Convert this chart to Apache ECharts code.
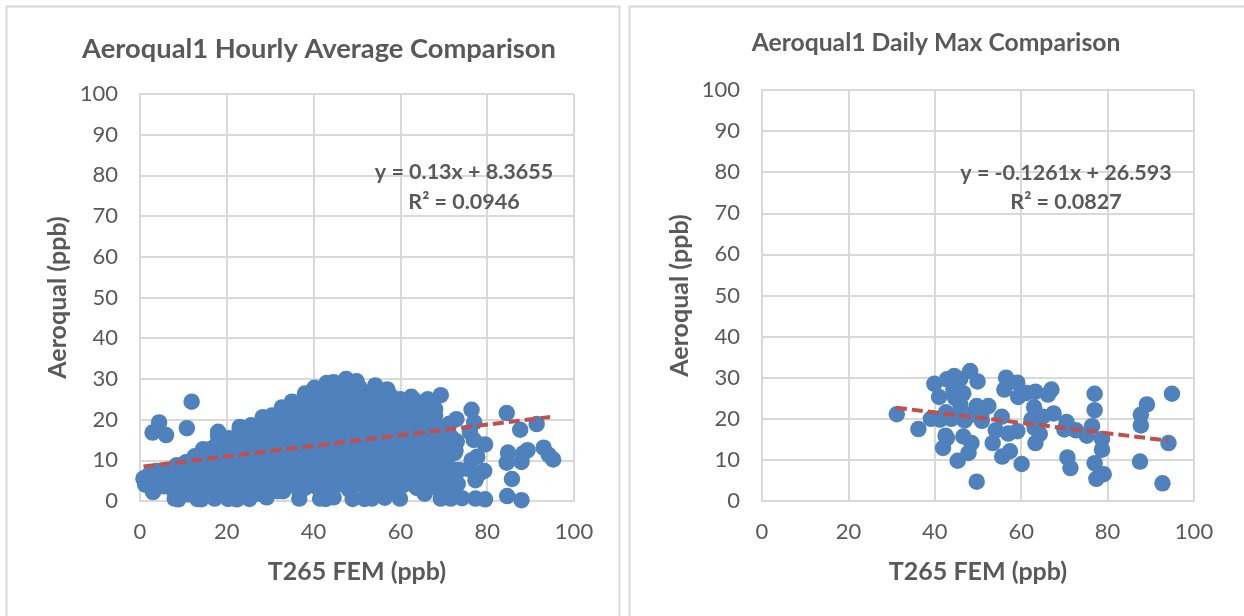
<!DOCTYPE html>
<html><head><meta charset="utf-8">
<style>html,body{margin:0;padding:0;background:#fff}#c{width:1244px;height:616px}</style>
<script src="https://cdn.jsdelivr.net/npm/echarts@6/dist/echarts.min.js"></script>
</head><body><div id="c"></div>
<script>
const xTicks = [0,20,40,60,80,100];
const yTicks = [0,10,20,30,40,50,60,70,80,90,100];
const hourlyTrendX = [0.8, 94.5];
const hourlyTrendY = [8.47, 20.65];
const dailyTrendX = [31, 94];
const dailyTrendY = [22.7, 14.7];
const hourlyPoints = [
[0.8,5.5],[1.2,4],[2,6.3],[2.9,16.8],[4.4,19.3],[6,16.2],[11.9,24.4],[10.8,17.9],[3,2.2],[3.2,4.6],[3.8,7.4],[5,5.8],[5.5,3.8],[6.2,7.6],[7,5],[7.6,2.8],
[8,0.6],[8.8,0.4],[8.5,8.8],[9.5,6.2],[9.8,3.4],[10.6,9.5],[11,1.6],[11.7,6.8],[12.2,4.2],[12.6,11],[13.2,0.5],[13.8,8.6],[14.1,0.4],[14.4,2.8],[14.5,12.7],[15,5.6],
[15.6,10.2],[16.2,2],[16.8,7.4],[17.2,0.6],[17,13.2],[18,16],[18.4,4.3],[18.6,10.6],[19,12.8],[19.5,1.7],[20.3,0.5],[20,15.2],[20.4,7],[21,4],[21.2,9.8],[21.6,12.6],
[22.3,0.4],[22.8,2.2],[23,17.6],[22.9,14.8],[23.4,6],[24,11],[24.6,8.4],[25.2,0.5],[25.3,3.2],[25.4,16.5],[26,13.4],[26.4,5.4],[27,18.2],[27.2,10.2],[27.6,1.8],[28.3,19.8],
[28,7.6],[28.6,15.5],[29.2,0.9],[29.4,12.4],[29.6,4],[30.2,18],[30.5,9.4],[31,6.2],[31.4,15],[31.8,2.4],[32.7,22],[32.4,12],[33,19.2],[33.4,8.2],[33.8,4.4],[34.2,16.4],
[35,23.4],[35,21],[35.2,13.8],[35.6,10.6],[36,6.2],[36.7,0.6],[36.6,2.8],[36.8,18.6],[37.2,15.4],[37.4,22.5],[38,25.5],[38,12.3],[38.2,8.4],[38.8,20],[39,4.4],[39.4,16.8],
[40.2,26.8],[40,24],[40.2,10],[40.6,13.8],[41.2,21],[41.5,0.6],[41.6,6.4],[41.8,18],[42,3.2],[42.4,25],[43.3,28.1],[43,15],[42.8,0.5],[43.6,11],[44,22.4],[44.6,28.5],
[44.5,8],[44.6,0.9],[44.8,19],[45,4.8],[45.4,25.6],[45.8,13.2],[46.4,16.4],[46.6,22],[47.5,29.7],[47,27.4],[47.2,10.2],[47.6,6.4],[48,19],[48.2,2.8],[48.6,24.8],[49,0.5],
[49,14],[49.9,28.5],[49.8,21.6],[50,8.4],[50.3,17],[50.6,4.6],[51,26],[51.7,0.5],[51.6,11.4],[52,23.6],[52.2,14.6],[52.6,19.4],[53.4,0.6],[53.2,6.6],[53.4,2.8],[54.2,27.6],
[54,25],[54.2,16.8],[54.4,10],[55,21.8],[55.4,13],[55.6,4.4],[56.4,0.8],[56.2,7.4],[57,26.4],[57,18.8],[57.2,24],[57.6,3.2],[58,15.4],[58.2,10.6],[58.8,21.6],[59,24.8],
[59.9,0.6],[59.6,7],[60.2,24.3],[60,12.8],[60.4,18],[61,4.6],[61.2,21],[61.6,9.4],[62.5,25.2],[62.4,15.4],[62.6,5.8],[63,22.4],[63.4,12],[63.8,3.2],[64,19],[64.6,7.6],
[65,24],[65.2,16],[65.4,10],[65.6,1.8],[66.3,24.3],[66.4,21],[66.6,5.2],[67,13.2],[67.2,22.8],[67.4,3.6],[67.8,8.6],[68,17.8],[68.6,11],[69.3,26],[69.3,0.6],[69.4,6],
[69.4,14.8],[70,3.4],[70.4,18.2],[70.6,9.4],[71.3,19],[71.6,0.6],[71.6,12.6],[71.8,15.6],[72,7],[72.4,3.2],[72.9,20.1],[72.7,12.4],[73,14.6],[73.2,4.2],[73.6,7.6],[74.2,0.7],
[75.8,7.8],[76.4,22.4],[77,19.3],[76,17],[76.9,15],[79.5,13.9],[77.7,10.9],[76.4,10],[79.3,7.4],[78.2,6.8],[77.3,5.1],[77.3,0.6],[79.5,0.4],[84.5,21.6],[87.6,17.5],[91.4,18.9],
[84.8,11.9],[84.5,9.4],[87.9,9.6],[89.3,12.5],[88.3,11.7],[85.7,5.4],[84.6,1.2],[87.9,0.2],[93,13.1],[94.2,11.3],[95.2,10.2]
];
const hourlyCoreX = [3,5.5,8,10.5,13,15.5,18,20.5,23,25.5,28,30.5,33,35.5,38,40.5,43,45.5,48,50.5,53,55.5,58,60.5,63,65.5,68,70.5,72.5];
const hourlyCoreY = [
[2.5,5.5],[3.6,6.6],[2.5,5.4,8.2],[3.8,6.8,9.4],[2.4,5.2,8,10.8],[3.6,6.6,9.6,12.6],[2.3,5.2,8.2,11.2,14.2],[3.5,6.4,9.6,12.6,15.4],
[2.2,5,8,11.2,14,16.6],[3.4,6.4,9.6,12.4,15.2,17.6],[2.4,5.2,8,11,14,17,19.4],[3.6,6.6,9.8,12.8,15.6,18.4,20],[2.4,5.4,8.4,11.2,14.2,17.2,20,22],
[3.8,7,10,13,16,18.8,21.6,23.6],[3.2,5.6,8.6,11.6,14.6,17.6,20.4,23.4,25.6],[3.6,7,10,13,16,19,22,25,26.8],[3,5.6,8.8,11.8,14.6,17.6,20.6,23.6,26.4,28],
[4,7,10,13,16,19,22,25,27.6],[3.2,5.6,8.8,11.8,14.8,17.8,20.8,23.6,26.4,29.2],[4,7,10,13,16,19,22,25,28],[3.4,5.6,8.8,11.8,14.8,17.8,20.8,23.6,26.4],
[4,7,10,13,16,19,22,25,27],[3.4,5.8,8.8,11.8,14.8,17.8,20.8,23.6,25.6],[3.8,7,10,13,16,19,22,24.4],[4,5.6,8.8,11.8,14.8,17.8,20.8,23.8,25],
[3.2,7,10,13,16,19,22,24.4],[3.4,5.6,8.8,11.8,14.8,18,21,22.6],[3,6.6,10,13,16,18],[3.6,7.6,11.8,14.6]
];
const hourlyUpperEdge = [
[47.5,30],[44.6,29.2],[43,29],[49.9,29.4],[54.2,28.4],[57,27.4],[62.5,25.6],[60,25],[66.3,25],[40.2,27.8],[38,26.4],[35,24.4],[32.7,23],[28.3,20.6],[23,18.2],[18,17],[25.6,18.6],[30.4,21]
];
const dailyPoints = [
[31.2,21.1],[36.2,17.5],[39.1,20],[39.9,28.5],[41,25.3],[41.2,19.8],[42.8,29.6],[42.6,21.6],[43.8,20],[42.5,15.9],[42.8,15.3],[41.9,12.9],[44.5,30.4],[45.9,29.7],[44.3,27.1],[46.6,26.2],
[44.7,25.1],[45.9,23.5],[45.3,20.6],[46.9,19.6],[46.6,15.7],[48.5,14.1],[47.8,11.7],[45.3,9.8],[48.2,31.6],[49.9,29.1],[49.7,23.1],[52.4,23.1],[48.5,21],[50.8,21],[50.9,19.5],[49.7,4.7],
[53.4,14.1],[54.1,17.2],[55.6,10.8],[57.4,12.1],[55.5,20.5],[56.5,30],[56.1,27.1],[59.1,28.8],[57,16.4],[59.1,17],[59.3,25.3],[61.2,26.3],[60.1,9],[63.3,26.6],[63,22.8],[62.4,19.8],
[64.3,16.3],[63.3,14.1],[65,20.5],[63.1,17.8],[66.2,25.9],[67,27.1],[67.5,21.3],[70.5,19.2],[70,17.4],[70.7,10.6],[71.4,8],[72.7,17.2],[75.2,15.9],[76.4,18.2],[77,26.1],[77,22.1],
[77,9.2],[77.4,5.4],[79.1,6.5],[78.7,15.1],[78.7,12.5],[87.5,9.6],[87.7,21],[87.7,18.4],[89.1,23.5],[92.7,4.3],[94.1,14.1],[94.9,26.1]
];
const chartTitles = ["Aeroqual1 Hourly Average Comparison","Aeroqual1 Daily Max Comparison"];
const xName = "T265 FEM (ppb)";
const yName = "Aeroqual (ppb)";
const eqLeft = ["y = 0.13x + 8.3655","R² = 0.0946"];
const eqRight = ["y = -0.1261x + 26.593","R² = 0.0827"];

const FONT = 'Lato';
const GRAY = '#595959', GRID = '#d9d9d9', BLUE = '#4f81bd', RED = '#c0504d';
const hourlyAll = hourlyPoints.concat(hourlyUpperEdge, hourlyCoreX.flatMap((x,i)=>hourlyCoreY[i].map(y=>[x,y])));
const chart = echarts.init(document.getElementById('c'), null, {renderer:'canvas'});
function xAxis(i){return {gridIndex:i,type:'value',min:xTicks[0],max:xTicks[xTicks.length-1],interval:20,
  name:xName,nameLocation:'middle',nameGap:58,nameTextStyle:{fontFamily:FONT,fontWeight:'bold',fontSize:25,color:GRAY},
  axisLine:{show:true,onZero:false,lineStyle:{color:GRID,width:2}},axisTick:{show:false},
  axisLabel:{fontFamily:FONT,fontSize:22,color:GRAY,margin:20},splitLine:{show:true,lineStyle:{color:GRID,width:2}}};}
function yAxis(i){return {gridIndex:i,type:'value',min:yTicks[0],max:yTicks[yTicks.length-1],interval:10,
  name:yName,nameLocation:'middle',nameGap:70,nameTextStyle:{fontFamily:FONT,fontWeight:'bold',fontSize:25,color:GRAY},
  axisLine:{show:true,lineStyle:{color:GRID,width:2}},axisTick:{show:false},
  axisLabel:{fontFamily:FONT,fontSize:22,color:GRAY,margin:22},splitLine:{show:true,lineStyle:{color:GRID,width:2}}};}
function pts(i,d){return {type:'scatter',xAxisIndex:i,yAxisIndex:i,data:d,symbol:'circle',symbolSize:16.5,large:false,
  itemStyle:{color:BLUE,opacity:1},silent:true,animation:false,z:3};}
function trend(i,xs,ys){return {type:'line',xAxisIndex:i,yAxisIndex:i,data:xs.map((x,k)=>[x,ys[k]]),symbol:'none',
  lineStyle:{color:RED,width:4,type:[11,5]},silent:true,animation:false,z:5};}
function txt(x,y,s,size){return {type:'text',x:x,y:y,z:20,style:{text:s,fontFamily:FONT,fontWeight:'bold',fontSize:size,fill:GRAY,textAlign:'center',textVerticalAlign:'middle'}};}
chart.setOption({
  animation:false,backgroundColor:'#fff',
  grid:[{left:140,top:94,width:434,height:407},{left:762,top:90,width:432,height:411}],
  xAxis:[xAxis(0),xAxis(1)],yAxis:[yAxis(0),yAxis(1)],
  series:[pts(0,hourlyAll),trend(0,hourlyTrendX,hourlyTrendY),pts(1,dailyPoints),trend(1,dailyTrendX,dailyTrendY)],
  graphic:[
    {type:'rect',z:-10,shape:{x:6.5,y:6.5,width:613,height:640},style:{fill:'#fff',stroke:GRID,lineWidth:2}},
    {type:'rect',z:-10,shape:{x:629.5,y:6.5,width:640,height:640},style:{fill:'#fff',stroke:GRID,lineWidth:2}},
    txt(319,49,chartTitles[0],27.3),
    txt(936,43,chartTitles[1],24.7),
    txt(464,172,eqLeft[0],21.5),
    txt(464,202,eqLeft[1],21.5),
    txt(1066,173,eqRight[0],21.5),
    txt(1066,202,eqRight[1],21.5)
  ]
});
</script></body></html>
